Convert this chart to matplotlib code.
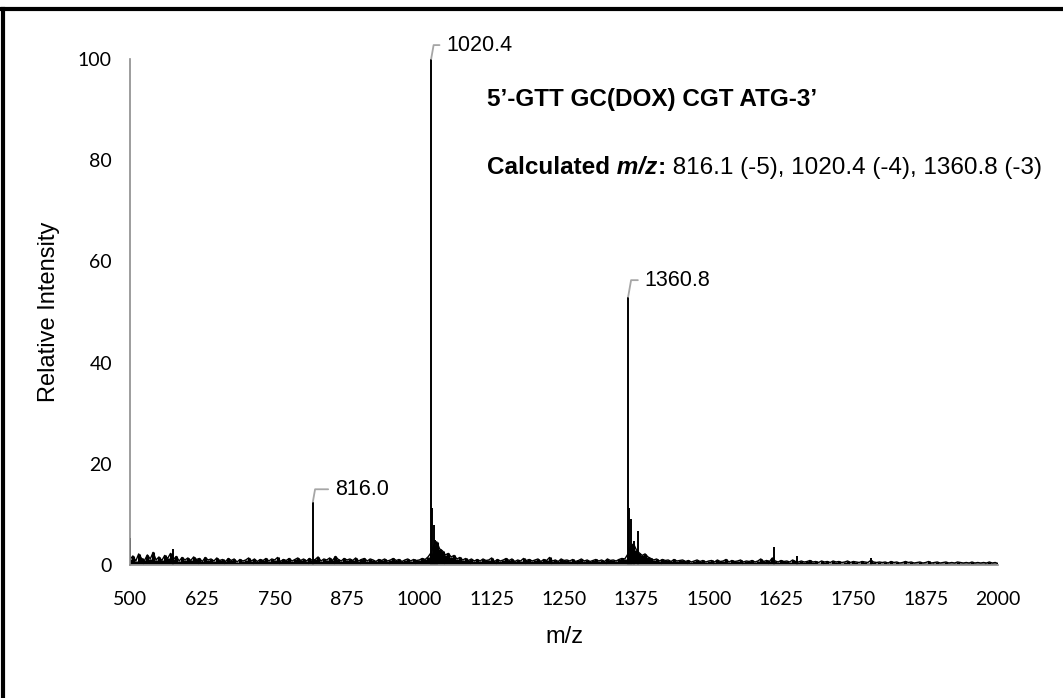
import numpy as np
import matplotlib.pyplot as plt
from matplotlib.lines import Line2D

# baseline noise, read every 5 m/z from 500 to 2000
noise_mz = np.arange(500, 2001, 5)
noise_int = [
    1.1, 1.8, 0.8, 2.2, 1.3, 0.9, 2.0, 1.2, 2.5, 1.0, 1.6, 0.9, 1.9, 1.3, 2.3, 1.1, 1.7, 0.8, 1.5, 1.0,
    1.4, 0.9, 1.6, 1.1, 1.3, 0.7, 1.5, 1.0, 1.2, 0.8, 1.4, 0.9, 1.1, 0.7, 1.3, 0.9, 1.2, 0.6, 1.1, 0.8,
    1.0, 1.4, 0.8, 1.2, 0.7, 1.1, 0.9, 1.3, 0.8, 1.2, 1.0, 1.5, 0.7, 1.1, 0.9, 1.3, 0.8, 1.1, 1.4, 0.9,
    1.2, 0.8, 1.3, 0.9, 1.1, 1.6, 0.8, 1.2, 1.0, 1.4, 0.9, 1.7, 1.1, 0.8, 1.3, 1.0, 1.2, 0.9, 1.4, 0.8,
    1.1, 1.3, 0.8, 1.2, 1.0, 0.7, 1.1, 0.9, 1.2, 0.8, 1.0, 1.3, 0.9, 1.1, 0.7, 1.0, 1.2, 0.8, 1.1, 0.9,
    1.0, 1.3, 1.1, 1.6, 2.4, 3.9, 4.6, 3.2, 2.8, 2.0, 2.3, 1.6, 1.9, 1.2, 1.5, 1.0, 1.3, 0.9, 1.2, 0.8,
    1.1, 0.8, 1.2, 0.9, 1.0, 1.4, 0.7, 1.1, 0.8, 1.0, 1.3, 0.9, 1.2, 0.7, 1.0, 0.8, 1.3, 0.9, 1.1, 0.8,
    1.0, 1.2, 0.7, 1.1, 0.9, 1.5, 0.8, 1.0, 0.7, 1.2, 0.9, 1.0, 0.8, 1.1, 0.7, 0.9, 1.2, 0.8, 1.0, 0.7,
    0.9, 1.1, 0.8, 1.0, 0.7, 1.2, 0.9, 1.0, 0.8, 1.1, 1.3, 1.2, 2.1, 3.6, 4.2, 3.0, 2.4, 1.9, 2.2, 1.6,
    1.3, 1.0, 1.2, 0.8, 1.1, 0.9, 1.0, 0.7, 1.1, 0.8, 0.9, 1.0, 0.7, 0.9, 0.6, 0.8, 1.0, 0.7, 0.9, 0.6,
    0.8, 0.9, 0.6, 1.0, 0.7, 0.8, 1.1, 0.6, 0.9, 0.7, 0.8, 1.0, 0.6, 0.8, 0.7, 0.9, 0.6, 0.8, 1.2, 0.7,
    0.9, 0.7, 1.4, 0.8, 0.6, 0.9, 0.7, 0.8, 0.6, 1.0, 0.7, 0.6, 0.8, 0.6, 0.7, 0.9, 0.6, 0.7, 0.5, 0.8,
    0.6, 0.7, 0.5, 0.8, 0.6, 0.7, 0.5, 0.6, 0.8, 0.5, 0.7, 0.6, 0.5, 0.7, 0.6, 0.5, 0.9, 0.6, 0.5, 0.6,
    0.5, 0.6, 0.4, 0.7, 0.5, 0.6, 0.4, 0.5, 0.7, 0.5, 0.6, 0.4, 0.5, 0.6, 0.4, 0.5, 0.7, 0.4, 0.5, 0.6,
    0.4, 0.5, 0.6, 0.4, 0.5, 0.4, 0.6, 0.5, 0.4, 0.5, 0.4, 0.6, 0.4, 0.5, 0.4, 0.5, 0.4, 0.6, 0.4, 0.5,
    0.3,
]

# sharp peaks
peak_mz = [500, 575, 816.0, 1020.4, 1022.3, 1024.6, 1027.0, 1030.5,
           1360.8, 1362.6, 1365.0, 1370.5, 1378.0, 1612.0, 1653.0, 1781.0]
peak_int = [5.3, 3.2, 12.5, 100, 11.2, 8.0, 5.0, 4.4,
            53, 11.3, 9.0, 4.8, 6.8, 3.6, 1.8, 1.3]

label_mz = [816.0, 1020.4, 1360.8]
label_int = [12.5, 100, 53]
label_txt = ['816.0', '1020.4', '1360.8']
label_off = [(16, 9), (11, 10), (12, 12)]

xticks = [500, 625, 750, 875, 1000, 1125, 1250, 1375, 1500, 1625, 1750, 1875, 2000]
yticks = [0, 20, 40, 60, 80, 100]

fig = plt.figure(figsize=(10.63, 6.98), dpi=100)
ax = fig.add_axes([0.1223, 0.1905, 0.8166, 0.725])

# noise drawn as a dense band of sticks with a jagged top
ax.vlines(noise_mz, 0.3, noise_int, color='black', lw=2.2)
ax.plot(noise_mz, noise_int, color='black', lw=1.0)
ax.vlines(peak_mz, 0, peak_int, color='black', lw=1.4)

ax.set_xlim(500, 2000)
ax.set_ylim(0, 100)
ax.set_xticks(xticks)
ax.set_yticks(yticks)
ax.tick_params(length=0, labelsize=14)
ax.tick_params(axis='x', pad=19)
ax.tick_params(axis='y', pad=13)
for lab in ax.get_xticklabels() + ax.get_yticklabels():
    lab.set_family('Lato')
for s in ['top', 'right']:
    ax.spines[s].set_visible(False)
for s in ['left', 'bottom']:
    ax.spines[s].set_color('#8c8c8c')
    ax.spines[s].set_linewidth(1.2)

ax.set_xlabel('m/z', fontsize=17, family='Liberation Sans', labelpad=13)
ax.set_ylabel('Relative Intensity', fontsize=17, family='Liberation Sans', labelpad=13)

for mz, h, txt, off in zip(label_mz, label_int, label_txt, label_off):
    ax.annotate(txt, xy=(mz, h), xytext=off, textcoords='offset points',
                va='center', ha='left', fontsize=15.5, family='Liberation Sans',
                annotation_clip=False,
                arrowprops=dict(arrowstyle='-', color='#a6a6a6', lw=1.3,
                                relpos=(0, 0.5), shrinkA=3, shrinkB=0,
                                connectionstyle='angle,angleA=0,angleB=80,rad=0'))

ax.text(1117, 90.8, '5\u2019-GTT GC(DOX) CGT ATG-3\u2019', fontsize=17.5,
        fontweight='bold', family='Liberation Sans', va='baseline')

# mixed-style line, pieces placed one after another
pieces = [('Calculated', 'bold', 'normal'), (' m/z', 'bold', 'italic'),
          (':', 'bold', 'normal'),
          (' 816.1 (-5), 1020.4 (-4), 1360.8 (-3)', 'normal', 'normal')]
renderer = fig.canvas.get_renderer()
x = 1117
for txt, w, st in pieces:
    t = ax.text(x, 77.2, txt, fontsize=17.5, fontweight=w, fontstyle=st,
                family='Liberation Sans', va='baseline')
    bb = t.get_window_extent(renderer)
    x = ax.transData.inverted().transform((bb.x1, bb.y0))[0]

# outer frame (top and left visible)
fig.add_artist(Line2D([0, 1], [0.9875, 0.9875], transform=fig.transFigure, color='black', lw=3))
fig.add_artist(Line2D([0.0025, 0.0025], [0, 0.9875], transform=fig.transFigure, color='black', lw=3))

fig.savefig('out.png', dpi=100)
